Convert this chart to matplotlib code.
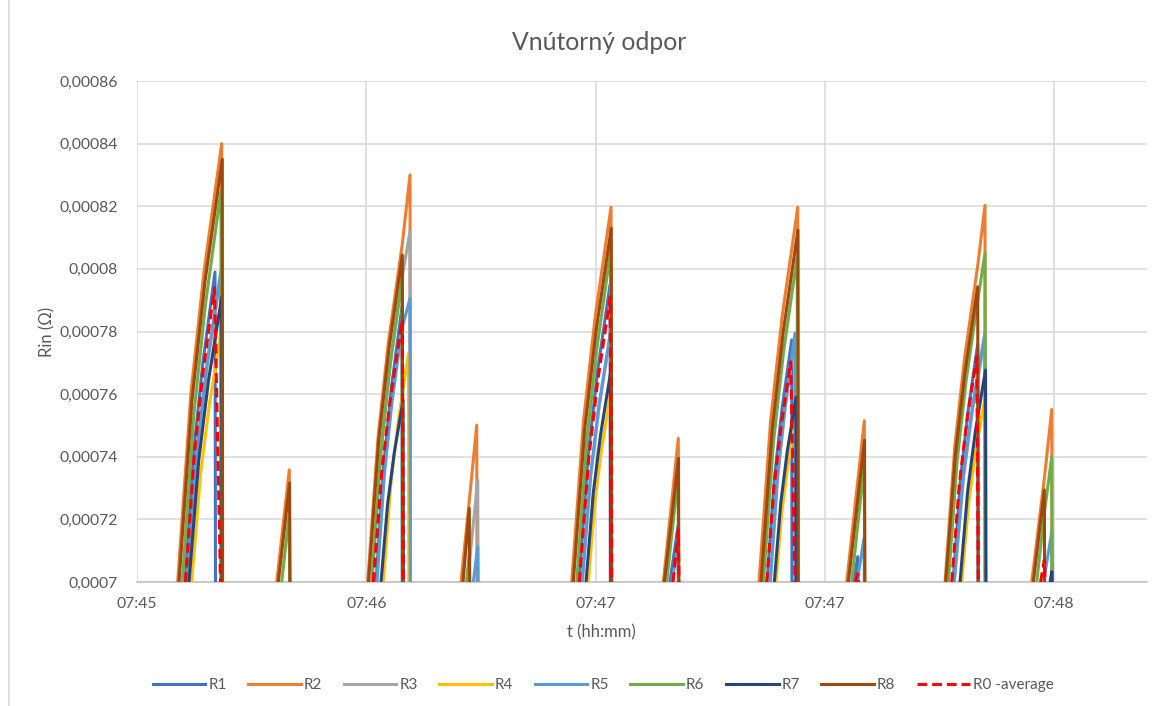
import numpy as np
import matplotlib
matplotlib.use("Agg")
import matplotlib.pyplot as plt
from matplotlib.lines import Line2D

# time in seconds after 07:45:00, values in ohm; each inner list is one pulse
R1 = [
    [(21.52, .0007), (23.68, .0007426), (25.83, .0007703), (28.71, .000799), (28.83, .0007)],
    [(67.34, .0007), (69.21, .0007378), (71.08, .0007625), (73.58, .000788), (73.65, .0007)],
    [(116.04, .0007), (118.27, .0007409), (120.50, .0007675), (123.48, .000795), (123.55, .0007)],
    [(137.87, .0007), (139.79, .000718), (139.86, .0007)],
    [(161.14, .0007), (162.92, .0007332), (164.70, .0007549), (167.07, .0007773), (167.12, .0007)],
    [(182.02, .0007), (182.90, .0007081), (182.98, .0007)],
    [(205.77, .0007), (207.55, .0007327), (209.32, .000754), (211.69, .000776), (211.77, .0007)],
]
R2 = [
    [(19.76, .0007), (22.93, .0007602), (26.10, .0007994), (30.32, .00084), (30.39, .0007)],
    [(43.52, .0007), (46.54, .0007358), (46.61, .0007)],
    [(65.35, .0007), (67.84, .0007464), (70.33, .0007767), (73.65, .000808), (75.50, .00083), (75.57, .0007)],
    [(87.73, .0007), (89.72, .000726), (91.50, .0007501), (91.57, .0007)],
    [(114.29, .0007), (117.12, .0007515), (119.95, .000785), (123.72, .0008197), (123.81, .0007)],
    [(136.27, .0007), (139.86, .0007459), (139.94, .0007)],
    [(159.22, .0007), (162.01, .0007515), (164.79, .000785), (168.51, .0008197), (168.58, .0007)],
    [(180.26, .0007), (184.49, .0007515), (184.56, .0007)],
    [(203.85, .0007), (206.20, .0007434), (208.55, .0007717), (211.69, .000801), (213.44, .0008203), (213.52, .0007)],
    [(224.65, .0007), (227.67, .000733), (229.45, .0007551), (229.52, .0007)],
]
R3 = [
    [(22.05, .0007), (24.46, .0007419), (26.87, .0007692), (30.08, .0007975), (30.15, .0007)],
    [(66.38, .0007), (68.61, .0007426), (70.84, .0007703), (73.82, .000799), (75.50, .000812), (75.57, .0007)],
    [(89.29, .0007), (91.74, .0007326), (91.81, .0007)],
    [(116.85, .0007), (118.88, .000734), (120.90, .0007561), (123.60, .000779), (123.67, .0007)],
    [(161.95, .0007), (163.72, .0007335), (165.50, .0007554), (167.86, .000778), (167.93, .0007)],
    [(206.10, .0007), (208.30, .0007335), (210.50, .0007554), (213.44, .000778), (213.52, .0007)],
]
R4 = [
    [(23.12, .0007), (25.28, .0007348), (27.44, .0007575), (30.32, .000781), (30.39, .0007)],
    [(69.09, .0007), (70.91, .0007314), (72.72, .0007518), (75.14, .000773), (75.21, .0007)],
    [(118.27, .0007), (119.87, .0007258), (121.47, .0007426), (123.60, .00076), (123.67, .0007)],
    [(163.30, .0007), (164.70, .0007224), (166.11, .0007369), (167.98, .000752), (168.05, .0007)],
    [(207.85, .0007), (209.49, .0007249), (211.13, .0007412), (213.32, .000758), (213.40, .0007)],
]
R5 = [
    [(22.00, .0007), (24.42, .0007426), (26.85, .0007703), (30.08, .000799), (30.15, .0007)],
    [(67.58, .0007), (69.38, .0007348), (71.18, .0007575), (73.58, .000781), (75.50, .0007906), (75.57, .0007)],
    [(90.68, .0007), (91.74, .0007113), (91.81, .0007)],
    [(116.76, .0007), (118.81, .0007344), (120.86, .0007568), (123.60, .00078), (123.67, .0007)],
    [(138.35, .0007), (139.84, .000712), (139.91, .0007)],
    [(161.86, .0007), (163.66, .0007342), (165.46, .0007564), (167.86, .0007795), (167.93, .0007)],
    [(182.74, .0007), (184.42, .000714), (184.49, .0007)],
    [(206.01, .0007), (208.24, .0007343), (210.47, .0007566), (213.44, .0007797), (213.52, .0007)],
    [(227.48, .0007), (229.45, .000716), (229.52, .0007)],
]
R6 = [
    [(20.87, .0007), (23.65, .0007538), (26.44, .0007888), (30.15, .000825), (30.22, .0007)],
    [(44.72, .0007), (46.54, .000722), (46.61, .0007)],
    [(66.31, .0007), (68.49, .0007417), (70.67, .0007689), (73.58, .000797), (73.65, .0007)],
    [(89.05, .0007), (89.77, .00071), (89.82, .0007)],
    [(115.49, .0007), (117.92, .0007454), (120.36, .0007749), (123.60, .0008055), (123.67, .0007)],
    [(137.08, .0007), (139.84, .000734), (139.91, .0007)],
    [(160.26, .0007), (162.70, .0007447), (165.14, .0007738), (168.39, .0008039), (168.46, .0007)],
    [(181.46, .0007), (184.49, .000738), (184.56, .0007)],
    [(204.64, .0007), (206.76, .0007387), (208.87, .0007639), (211.69, .00079), (213.44, .000805), (213.52, .0007)],
    [(225.85, .0007), (227.67, .000722), (229.45, .00074), (229.52, .0007)],
]
R7 = [
    [(22.48, .0007), (24.83, .0007391), (27.18, .0007646), (30.32, .000791), (30.39, .0007)],
    [(68.54, .0007), (70.12, .0007249), (71.71, .0007412), (73.82, .000758), (73.89, .0007)],
    [(117.72, .0007), (119.48, .0007287), (121.25, .0007474), (123.60, .0007668), (123.67, .0007)],
    [(162.89, .0007), (164.45, .0007254), (166.02, .0007419), (168.10, .000759), (168.17, .0007)],
    [(207.45, .0007), (209.28, .0007291), (211.12, .0007481), (213.56, .0007677), (213.68, .0007)],
    [(229.04, .0007), (229.47, .0007033), (229.52, .0007)],
]
R8 = [
    [(20.08, .0007), (23.19, .0007581), (26.31, .0007959), (30.46, .000835), (30.54, .0007)],
    [(43.90, .0007), (46.61, .0007316), (46.71, .0007)],
    [(65.54, .0007), (67.97, .0007449), (70.41, .0007741), (73.65, .0008044), (73.77, .0007)],
    [(88.21, .0007), (89.72, .0007235), (89.79, .0007)],
    [(114.67, .0007), (117.40, .0007486), (120.13, .0007802), (123.77, .000813), (123.89, .0007)],
    [(136.51, .0007), (139.91, .0007395), (139.98, .0007)],
    [(159.70, .0007), (162.36, .0007483), (165.02, .0007798), (168.56, .0008124), (168.65, .0007)],
    [(180.65, .0007), (184.54, .0007453), (184.61, .0007)],
    [(204.02, .0007), (206.32, .0007405), (208.62, .000767), (211.69, .0007943), (211.81, .0007)],
    [(225.03, .0007), (227.67, .0007294), (227.74, .0007)],
]
R0 = [
    [(21.64, .0007), (23.73, .0007404), (25.81, .0007667), (28.59, .000794), (30.03, .0007)],
    [(66.69, .0007), (68.78, .000736), (70.87, .0007594), (73.65, .0007837), (73.89, .0007)],
    [(116.11, .0007), (118.34, .0007391), (120.56, .0007646), (123.53, .000791), (123.84, .0007)],
    [(138.59, .0007), (139.86, .0007166), (140.03, .0007)],
    [(161.07, .0007), (162.80, .0007302), (164.53, .0007499), (166.83, .0007703), (167.86, .0007)],
    [(182.38, .0007), (182.90, .0007026), (183.10, .0007)],
    [(205.46, .0007), (207.26, .000731), (209.05, .0007511), (211.45, .000772), (211.84, .0007)],
    [(226.76, .0007), (227.67, .000707), (227.84, .0007)],
]

SERIES_NAMES = ["R1", "R2", "R3", "R4", "R5", "R6", "R7", "R8", "R0 -average"]
SERIES_DATA = [R1, R2, R3, R4, R5, R6, R7, R8, R0]
COLORS = ["#4472C4", "#ED7D31", "#A5A5A5", "#FFC000", "#5B9BD5",
          "#70AD47", "#264478", "#9E480E", "#FF0000"]

X_TICK_TIMES = [10, 65, 120, 175, 230]
X_TICK_LABELS = ["07:45", "07:46", "07:47", "07:47", "07:48"]
Y_TICKS = [0.0007, 0.00072, 0.00074, 0.00076, 0.00078, 0.0008, 0.00082, 0.00084, 0.00086]
Y_TICK_LABELS = ["0,0007", "0,00072", "0,00074", "0,00076", "0,00078", "0,0008",
                 "0,00082", "0,00084", "0,00086"]

TITLE = "Vnútorný odpor"
XLABEL = "t (hh:mm)"
YLABEL = "Rin (Ω)"

plt.rcParams["font.family"] = ["Lato", "DejaVu Sans"]
TXT = "#595959"
W, H = 1175, 706
fig = plt.figure(figsize=(W / 100, H / 100), dpi=100)
fig.patch.set_facecolor("white")

ax = fig.add_axes([137 / W, 1 - 582 / H, 1010 / W, 501 / H])


def flatten(spikes):
    t, v = [], []
    for sp in spikes:
        for a, b in sp:
            t.append(a)
            v.append(b)
        t.append(np.nan)
        v.append(np.nan)
    return np.array(t), np.array(v)


LW = 2.2
handles = []
for i, (name, data, col) in enumerate(zip(SERIES_NAMES, SERIES_DATA, COLORS)):
    t, v = flatten(data)
    ls = (0, (3.2, 1.6)) if name.startswith("R0") else "-"
    ax.plot(t, v, color=col, lw=LW, ls=ls, zorder=3 + i,
            solid_joinstyle="round", dash_joinstyle="round",
            solid_capstyle="butt", dash_capstyle="butt")
    handles.append(Line2D([0], [0], color=col, lw=LW, ls=ls, dash_capstyle="butt"))

ax.set_xlim(10, 252.3)
ax.set_ylim(0.0007, 0.00086)
ax.set_xticks(X_TICK_TIMES)
ax.set_xticklabels(X_TICK_LABELS)
ax.set_yticks(Y_TICKS)
ax.set_yticklabels(Y_TICK_LABELS)
ax.tick_params(length=0, colors=TXT, labelsize=11.3)
ax.tick_params(axis="y", pad=14)
ax.tick_params(axis="x", pad=11)
ax.grid(True, color="#D9D9D9", lw=1.1, zorder=0)
ax.set_axisbelow(True)
for s in ["left", "right", "top"]:
    ax.spines[s].set_visible(False)
ax.spines["bottom"].set_color("#BFBFBF")
ax.spines["bottom"].set_linewidth(1.1)
ax.spines["bottom"].set_zorder(2)

fig.text(599 / W, 1 - 42 / H, TITLE, ha="center", va="center", fontsize=17.8, color=TXT)
fig.text(601 / W, 1 - 632 / H, XLABEL, ha="center", va="center", fontsize=12, color=TXT)
fig.text(47 / W, 1 - 332 / H, YLABEL, ha="center", va="center", fontsize=12,
         color=TXT, rotation=90)

leg = fig.legend(handles, SERIES_NAMES, loc="center", bbox_to_anchor=(603 / W, 1 - 685 / H),
                 ncol=9, frameon=False, handlelength=3.45, handletextpad=0.2,
                 columnspacing=1.4, fontsize=11)
for tx in leg.get_texts():
    tx.set_color(TXT)

fig.add_artist(Line2D([8.5 / W, 8.5 / W], [0, 1], transform=fig.transFigure,
                      color="#D9D9D9", lw=1.2))

fig.savefig("out.png", dpi=100)
